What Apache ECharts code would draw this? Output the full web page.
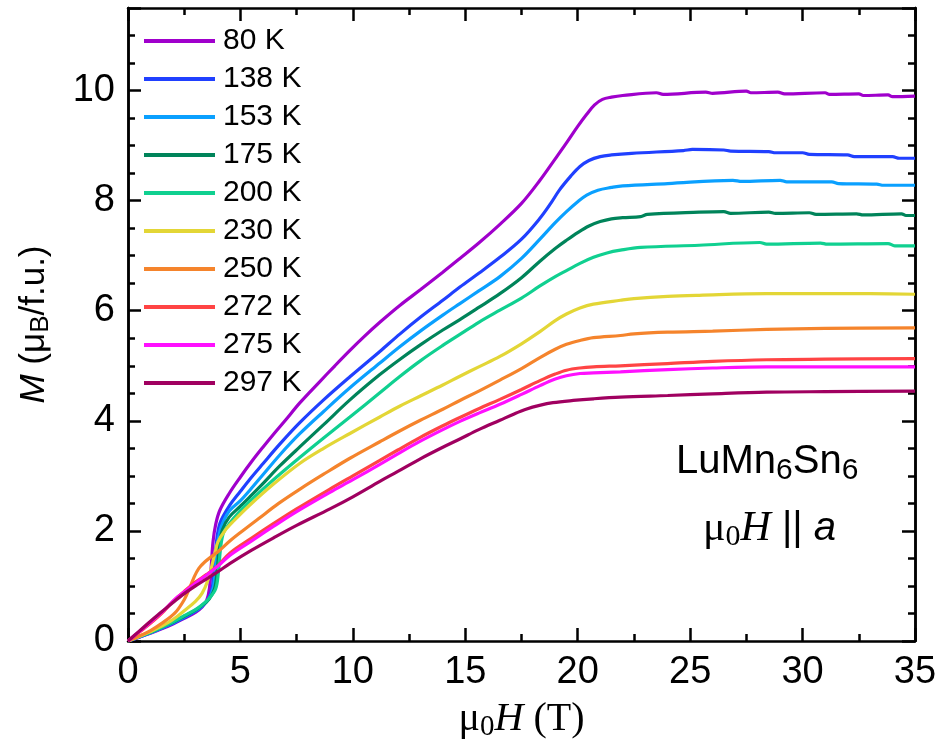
<!DOCTYPE html>
<html>
<head>
<meta charset="utf-8">
<title>LuMn6Sn6 M(H)</title>
<script src="https://cdn.jsdelivr.net/npm/echarts@6/dist/echarts.min.js"></script>
<style>
  html, body { margin: 0; padding: 0; background: #fff; }
  #chart { width: 942px; height: 753px; }
</style>
</head>
<body>
<div id="chart"></div>
<script>
// Magnetization M (muB/f.u.) vs applied field mu0H (T), field along a, one curve per temperature.
const temperatures = ['80 K', '138 K', '153 K', '175 K', '200 K', '230 K', '250 K', '272 K', '275 K', '297 K'];
const curveColors = ['#a000cc', '#2040ff', '#0aa0ff', '#00845a', '#10d090', '#e3d636', '#f5842c', '#ff4444', '#ff10ff', '#a00060'];

const m80K = [[0,0],[0.5,0.07],[1,0.14],[1.5,0.22],[2,0.31],[2.5,0.41],[3,0.52],[3.3,0.62],[3.5,0.74],[3.62,0.95],[3.7,1.35],[3.78,1.8],[3.9,2.12],[4.09,2.38],[4.5,2.68],[5,2.98],[5.5,3.26],[6,3.52],[6.5,3.77],[7,4.01],[7.65,4.33],[8.5,4.7],[9.2,5.0],[9.87,5.28],[10.5,5.53],[11.2,5.79],[12.1,6.1],[13,6.38],[14,6.7],[14.76,6.95],[15.6,7.23],[16.54,7.57],[17.5,7.95],[18.32,8.37],[19,8.76],[19.5,9.05],[20,9.35],[20.4,9.57],[20.75,9.74],[21.1,9.84],[21.5,9.88],[22,9.91],[23.5,9.96],[23.8,9.93],[25.7,9.97],[26,9.95],[27.5,9.99],[27.7,9.96],[28.9,9.97],[29.2,9.94],[31,9.96],[31.2,9.93],[32.5,9.94],[32.7,9.91],[33.8,9.92],[34,9.89],[35,9.9]];
const m138K = [[0,0],[0.5,0.07],[1,0.15],[1.5,0.23],[2,0.32],[2.5,0.42],[3,0.54],[3.3,0.63],[3.6,0.78],[3.75,0.98],[3.85,1.4],[3.95,1.85],[4.1,2.15],[4.5,2.45],[5,2.72],[5.42,2.94],[6,3.22],[6.76,3.58],[7.65,3.97],[8.7,4.38],[9.87,4.8],[11.2,5.26],[12.1,5.58],[13,5.88],[14,6.19],[14.76,6.43],[15.6,6.68],[16.54,6.97],[17.5,7.3],[18.32,7.68],[18.8,7.95],[19.2,8.2],[19.7,8.45],[20.1,8.62],[20.5,8.73],[21,8.8],[21.5,8.83],[22.4,8.86],[24.7,8.91],[25.1,8.93],[26.5,8.92],[26.8,8.9],[28.5,8.89],[28.8,8.87],[30,8.87],[30.3,8.84],[32,8.83],[32.3,8.8],[34,8.8],[34.3,8.77],[35,8.77]];
const m153K = [[0,0],[0.5,0.08],[1,0.15],[1.5,0.24],[2,0.33],[2.5,0.44],[3,0.55],[3.3,0.64],[3.6,0.77],[3.8,0.98],[3.9,1.35],[4.0,1.8],[4.15,2.08],[4.5,2.36],[5,2.55],[5.42,2.74],[6,3.02],[6.75,3.38],[7.65,3.77],[8.7,4.17],[9.87,4.6],[11.2,5.05],[12.1,5.35],[13,5.63],[14,5.92],[14.76,6.13],[15.6,6.36],[16.54,6.62],[17.5,6.95],[18.32,7.3],[19,7.6],[19.5,7.8],[20,7.98],[20.4,8.1],[20.9,8.19],[21.5,8.24],[22,8.27],[24,8.31],[26.9,8.37],[27.3,8.35],[29,8.37],[29.3,8.34],[31.3,8.34],[31.6,8.31],[33.3,8.3],[33.6,8.28],[35,8.28]];
const m175K = [[0,0],[0.5,0.08],[1,0.16],[1.5,0.25],[2,0.34],[2.5,0.45],[3,0.56],[3.3,0.65],[3.6,0.76],[3.85,0.95],[3.97,1.3],[4.07,1.75],[4.2,2.02],[4.5,2.25],[5,2.45],[5.42,2.62],[6,2.86],[6.75,3.18],[7.65,3.53],[8.7,3.93],[9.87,4.38],[11.2,4.84],[12.1,5.12],[13,5.38],[14,5.65],[14.76,5.84],[15.6,6.06],[16.54,6.31],[17.5,6.6],[18.32,6.9],[19,7.13],[19.5,7.28],[20,7.42],[20.5,7.54],[21,7.62],[21.5,7.67],[22,7.69],[22.8,7.71],[23.1,7.75],[25.4,7.79],[26.5,7.8],[26.8,7.77],[28.5,7.79],[28.8,7.77],[30.3,7.78],[30.6,7.75],[32.4,7.76],[32.7,7.74],[34.4,7.76],[34.6,7.73],[35,7.73]];
const m200K = [[0,0],[0.5,0.08],[1,0.16],[1.5,0.25],[2,0.35],[2.5,0.46],[3,0.57],[3.3,0.66],[3.6,0.77],[3.9,0.95],[4.02,1.25],[4.12,1.7],[4.25,1.97],[4.5,2.13],[5,2.37],[5.42,2.54],[6,2.76],[6.75,3.03],[7.65,3.34],[8.7,3.69],[9.87,4.07],[11.2,4.51],[12.1,4.81],[13,5.09],[14,5.37],[14.76,5.57],[15.6,5.79],[16.54,6.01],[17.5,6.23],[18.32,6.45],[19,6.62],[19.5,6.73],[20.1,6.86],[20.7,6.97],[21.3,7.05],[21.9,7.1],[22.8,7.15],[25.4,7.19],[28.1,7.24],[28.4,7.21],[30.8,7.23],[31.1,7.21],[33.8,7.22],[34.1,7.18],[35,7.18]];
const m230K = [[0,0],[0.5,0.08],[1,0.17],[1.5,0.27],[2,0.39],[2.5,0.55],[3,0.72],[3.3,0.87],[3.55,1.1],[3.72,1.35],[3.87,1.6],[4.0,1.8],[4.3,2.0],[4.7,2.18],[5.42,2.47],[6.5,2.86],[7.65,3.23],[8.7,3.5],[9.87,3.77],[11.2,4.07],[12.1,4.27],[13,4.45],[14,4.65],[14.76,4.81],[15.6,4.98],[16.54,5.17],[17.5,5.4],[18.32,5.62],[19,5.82],[19.5,5.94],[20.1,6.05],[20.7,6.12],[21.9,6.19],[22.5,6.22],[24,6.26],[25.4,6.28],[28.4,6.31],[31.3,6.31],[33,6.31],[35,6.3]];
const m250K = [[0,0],[0.5,0.09],[1,0.19],[1.5,0.32],[2.09,0.51],[2.5,0.75],[2.75,0.97],[2.95,1.17],[3.15,1.32],[3.4,1.43],[3.7,1.53],[4.0,1.62],[4.54,1.82],[5,1.97],[5.8,2.22],[6.7,2.5],[7.65,2.76],[8.7,3.03],[9.87,3.32],[11.2,3.62],[12.1,3.82],[13,4.01],[14,4.21],[14.76,4.37],[15.6,4.54],[16.54,4.74],[17.5,4.95],[18.32,5.15],[19,5.3],[19.5,5.39],[20.1,5.46],[20.7,5.51],[21.9,5.55],[22.5,5.58],[24,5.61],[26,5.63],[28.4,5.66],[31,5.68],[35,5.69]];
const m272K = [[0,0],[0.5,0.16],[1,0.32],[1.5,0.5],[2,0.72],[2.5,0.9],[3,1.07],[3.5,1.21],[4,1.37],[4.54,1.6],[5.5,1.87],[6.5,2.14],[7.5,2.4],[8.98,2.76],[10,3.0],[11.2,3.28],[12,3.47],[13,3.7],[14,3.91],[14.76,4.06],[15.6,4.22],[16.54,4.39],[17.5,4.57],[18.32,4.73],[19,4.85],[19.5,4.92],[20.1,4.96],[20.7,4.98],[21.9,5.0],[24,5.04],[26,5.08],[28.4,5.11],[31,5.12],[35,5.13]];
const m275K = [[0,0],[0.5,0.17],[1,0.34],[1.5,0.52],[1.8,0.64],[2.2,0.8],[2.5,0.89],[3,1.05],[3.5,1.2],[4,1.36],[4.54,1.56],[5.5,1.82],[6.5,2.09],[7.5,2.35],[8.98,2.7],[10,2.93],[11.2,3.21],[12,3.4],[13,3.63],[14,3.84],[14.76,3.99],[15.6,4.14],[16.54,4.3],[17.5,4.48],[18.32,4.64],[19,4.76],[19.5,4.82],[20.1,4.86],[20.7,4.87],[21.9,4.89],[24,4.93],[26,4.96],[28.4,4.98],[31,4.98],[35,4.98]];
const m297K = [[0,0],[0.5,0.18],[1,0.36],[1.5,0.53],[2,0.7],[2.5,0.86],[3,1.0],[3.5,1.13],[4,1.26],[4.54,1.41],[5.5,1.65],[6.5,1.88],[7.5,2.1],[8.98,2.4],[10,2.62],[11.2,2.9],[12,3.08],[13,3.31],[14,3.52],[14.76,3.67],[15.6,3.84],[16.54,4.01],[17.2,4.13],[17.7,4.21],[18.3,4.28],[18.9,4.33],[19.8,4.37],[20.7,4.4],[21.9,4.43],[24,4.46],[26,4.49],[28.4,4.52],[31,4.53],[35,4.54]];

const curves = [m80K, m138K, m153K, m175K, m200K, m230K, m250K, m272K, m275K, m297K];

// axis ranges and tick spacing
const fieldRange = [0, 35];
const fieldStep = 5;
const momentRange = [0, 11.5];
const momentStep = 2;
const momentMinorStep = 0.5;

const SANS = '"Liberation Sans", Arial, sans-serif';
const SERIF = '"Liberation Serif", "Times New Roman", serif';
const AXIS_W = 2.5;

const chart = echarts.init(document.getElementById('chart'), null, { renderer: 'canvas' });

function xAxisDef(pos, showLabel, name) {
  return {
    type: 'value', position: pos,
    min: fieldRange[0], max: fieldRange[1], interval: fieldStep,
    axisLine: { show: true, onZero: false, lineStyle: { color: '#000', width: AXIS_W } },
    axisTick: { show: true, inside: true, length: 13, lineStyle: { color: '#000', width: AXIS_W } },
    minorTick: { show: true, splitNumber: 2, length: 7, lineStyle: { color: '#000', width: AXIS_W } },
    splitLine: { show: false },
    axisLabel: { show: showLabel, fontSize: 38, fontFamily: SANS, color: '#000', margin: 13 },
    name: name || '', nameLocation: 'middle', nameGap: 56,
    nameTextStyle: {
      fontFamily: SERIF, fontSize: 40, color: '#000',
      rich: {
        r: { fontFamily: SERIF, fontSize: 40, color: '#000' },
        s: { fontFamily: SERIF, fontSize: 29, color: '#000', padding: [16, 0, 0, 0] },
        i: { fontFamily: SERIF, fontSize: 40, fontStyle: 'italic', color: '#000' }
      }
    }
  };
}

function yAxisDef(pos, step, tickLen, showLabel, name) {
  return {
    type: 'value', position: pos,
    min: momentRange[0], max: momentRange[1], interval: step,
    axisLine: { show: true, onZero: false, lineStyle: { color: '#000', width: AXIS_W } },
    axisTick: { show: true, inside: true, length: tickLen, lineStyle: { color: '#000', width: AXIS_W } },
    splitLine: { show: false },
    axisLabel: {
      show: showLabel, fontSize: 38, fontFamily: SANS, color: '#000', margin: 13,
      formatter: function (v) { return (Math.abs(v / momentStep - Math.round(v / momentStep)) < 1e-6 && v <= 10) ? String(v) : ''; }
    },
    name: name || '', nameLocation: 'middle', nameGap: 74, nameRotate: 90,
    nameTextStyle: {
      fontFamily: SANS, fontSize: 35, color: '#000',
      rich: {
        r: { fontFamily: SANS, fontSize: 35, color: '#000' },
        s: { fontFamily: SANS, fontSize: 26, color: '#000', padding: [14, 0, 0, 0] },
        i: { fontFamily: SANS, fontSize: 35, fontStyle: 'italic', color: '#000' }
      }
    }
  };
}

const series = temperatures.map(function (t, k) {
  return {
    name: t, type: 'line', data: curves[k],
    xAxisIndex: 0, yAxisIndex: 0,
    showSymbol: false, symbol: 'none',
    smooth: 0.35,
    lineStyle: { color: curveColors[k], width: 3.2 },
    itemStyle: { color: curveColors[k] },
    emphasis: { disabled: true }
  };
});

const option = {
  animation: false,
  backgroundColor: '#fff',
  grid: { left: 128, right: 27, top: 8, bottom: 112, containLabel: false },
  xAxis: [
    xAxisDef('bottom', true, '{r|\u03bc}{s|0}{i|H}{r| (T)}'),
    xAxisDef('top', false)
  ],
  yAxis: [
    yAxisDef('left', momentMinorStep, 7, true, '{i|M}{r| (\u03bc}{s|B}{r|/f.u.)}'),
    yAxisDef('left', momentStep, 13, false),
    yAxisDef('right', momentMinorStep, 7, false),
    yAxisDef('right', momentStep, 13, false)
  ],
  legend: {
    orient: 'vertical', left: 144, top: 26, padding: 0,
    icon: 'rect', itemWidth: 71, itemHeight: 4, itemGap: 8,
    data: temperatures,
    textStyle: { fontSize: 30, fontFamily: SANS, color: '#000', lineHeight: 30, padding: [0, 0, 0, 3] },
    selectedMode: false
  },
  graphic: [
    {
      type: 'text', left: 676, top: 442, silent: true,
      style: {
        text: '{r|LuMn}{s|6}{r|Sn}{s|6}',
        rich: {
          r: { fontFamily: SANS, fontSize: 40, fill: '#000' },
          s: { fontFamily: SANS, fontSize: 30, fill: '#000', padding: [17, 0, 0, 0] }
        }
      }
    },
    {
      type: 'text', left: 703, top: 508, silent: true,
      style: {
        text: '{g|\u03bc}{s|0}{h|H}{r| || }{a|a}',
        rich: {
          g: { fontFamily: SERIF, fontSize: 42, fill: '#000' },
          s: { fontFamily: SERIF, fontSize: 30, fill: '#000', padding: [16, 0, 0, 0] },
          h: { fontFamily: SERIF, fontSize: 42, fontStyle: 'italic', fill: '#000' },
          r: { fontFamily: SANS, fontSize: 40, fill: '#000' },
          a: { fontFamily: SANS, fontSize: 40, fontStyle: 'italic', fill: '#000' }
        }
      }
    }
  ],
  series: series
};

chart.setOption(option);
</script>
</body>
</html>
